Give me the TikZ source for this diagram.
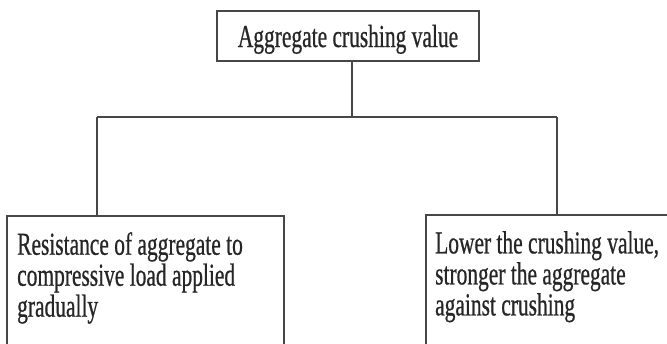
\documentclass[tikz,border=0pt]{standalone}
\usepackage{fontspec}
\setmainfont{Liberation Serif}
\newfontfamily\narrowserif{Liberation Serif}[FakeStretch=0.67,FakeBold=0.6]
\usetikzlibrary{positioning}

\begin{document}
\begin{tikzpicture}[x=1pt,y=-1pt]
  \tikzset{BoxStyle/.style = {
    shape         = rectangle,
    draw          = black!72,
    fill          = white,
    line width    = 1.4pt,
    inner sep     = 0pt,
    outer sep     = 0pt
    }
  }
  \tikzset{TitleStyle/.style = {
    BoxStyle,
    font          = \narrowserif\fontsize{32}{31}\selectfont,
    text          = black!85,
    minimum width = 262pt,
    minimum height= 50pt,
    text height   = 22pt,
    text depth    = 0pt
    }
  }
  \tikzset{TextStyle/.style = {
    font          = \narrowserif\fontsize{32}{31}\selectfont,
    text          = black!85,
    align         = left,
    inner sep     = 0pt,
    anchor        = north west
    }
  }
  \tikzset{LinkStyle/.style = {
    draw          = black!72,
    line width    = 1.4pt
    }
  }

  \clip (0,0) rectangle (667,343);
  \useasboundingbox (0,0) rectangle (667,343);

  \node[TitleStyle](acv) at (348,36) {Aggregate crushing value};

  \node[BoxStyle, anchor=north west, minimum width=277pt, minimum height=160pt](resbox) at (7,216) {};
  \node[BoxStyle, anchor=north west, minimum width=300pt, minimum height=160pt](lowbox) at (426,215) {};

  \node[TextStyle](res) at (17,232) {Resistance of aggregate to\\compressive load applied\\gradually};
  \node[TextStyle](low) at (435,231) {Lower the crushing value,\\stronger the aggregate\\against crushing};

  \coordinate (split) at (352,117);
  \coordinate (lsplit) at (97,117);
  \coordinate (rsplit) at (557,117);

  \draw[LinkStyle](split |- acv.south) -- (split);
  \draw[LinkStyle](lsplit) -- (rsplit);
  \draw[LinkStyle](lsplit) -- (lsplit |- resbox.north);
  \draw[LinkStyle](rsplit) -- (rsplit |- lowbox.north);
\end{tikzpicture}
\end{document}
